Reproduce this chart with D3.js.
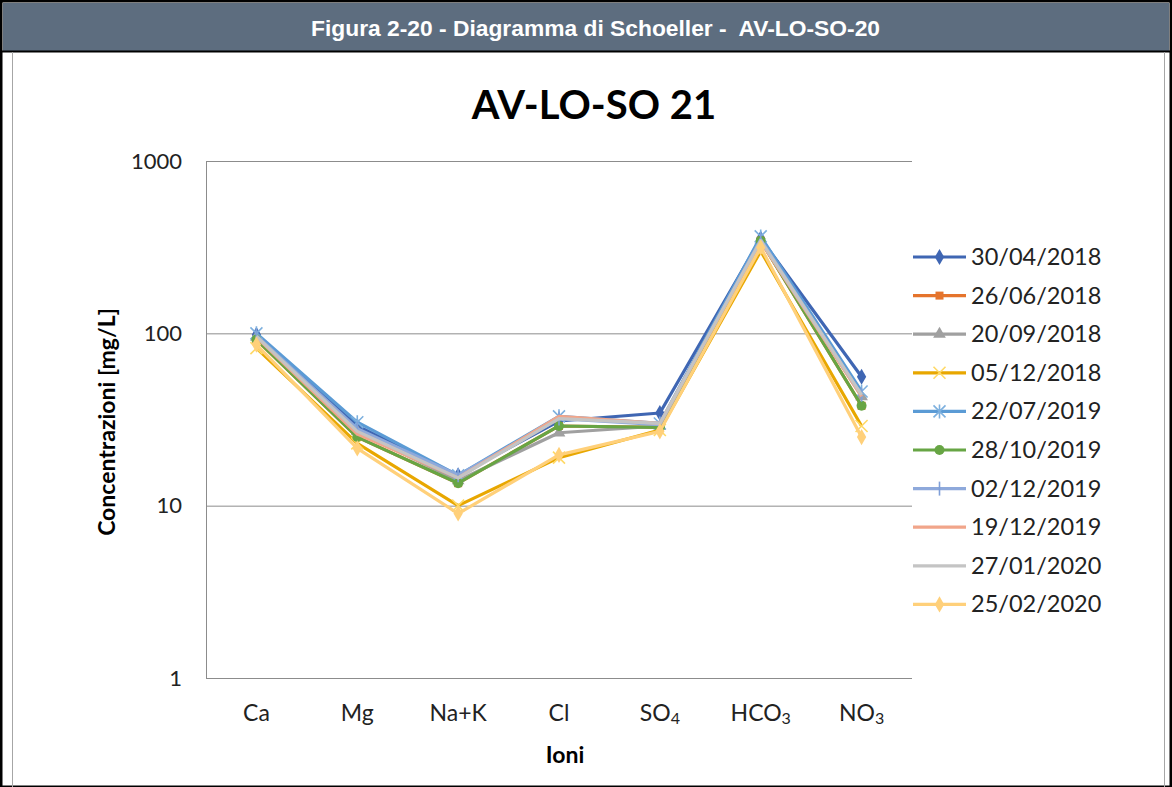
<!DOCTYPE html>
<html><head><meta charset="utf-8">
<script src="https://cdn.jsdelivr.net/npm/d3@7"></script>
<style>body{margin:0;background:#fff}svg{display:block}</style>
</head><body>
<svg id="c" width="1172" height="787"></svg>
<script>
const categories = ["Ca","Mg","Na+K","Cl","SO4","HCO3","NO3"];
const seriesNames = ["30/04/2018","26/06/2018","20/09/2018","05/12/2018","22/07/2019","28/10/2019","02/12/2019","19/12/2019","27/01/2020","25/02/2020"];
const s1  = [98, 29, 15, 31, 34.5, 355, 56];
const s2  = [92, 25, 13.5, 29, 28.5, 345, 38];
const s3  = [95, 27, 14, 26.5, 29, 345, 43];
const s4  = [82, 23, 10, 19, 27.5, 300, 29];
const s5  = [100, 30.5, 15, 33, 30, 365, 46];
const s6  = [92, 25, 13.5, 29, 28.5, 345, 38];
const s7  = [97, 28, 15, 32, 29.5, 350, 44];
const s8  = [95, 26, 14.5, 33, 30, 340, 43];
const s9  = [96, 27, 14.5, 32, 30, 345, 44];
const s10 = [86, 21.5, 9, 19.7, 27, 315, 25];
const seriesValues = [s1,s2,s3,s4,s5,s6,s7,s8,s9,s10];
const yTicks = [1, 10, 100, 1000];

const colors = ["#3F66B3","#E5742C","#A0A0A0","#E8A700","#5B9BD5","#67A544","#8EA9DB","#F1A58A","#C4C4C4","#FFD07A"];
const markerColors = ["#3F66B3","#E5742C","#A0A0A0","#FFD966","#7DB0DE","#67A544","#7F9FD8","none","none","#FFD07A"];
const markers = ["diamond","square","triangle","x","star","circle","plus","none","none","diamond"];

const FONT = "Lato,'Open Sans',sans-serif";
const svg = d3.select("#c");
// frame & header
svg.append("rect").attr("x",1).attr("y",1).attr("width",1170).attr("height",786).attr("fill","#fff").attr("stroke","#000").attr("stroke-width",3);
svg.append("rect").attr("x",3).attr("y",3).attr("width",1166).attr("height",48).attr("fill","#5D6D7F");
svg.append("line").attr("x1",0).attr("x2",1172).attr("y1",51.5).attr("y2",51.5).attr("stroke","#000").attr("stroke-width",2);
svg.append("line").attr("x1",12.5).attr("x2",12.5).attr("y1",52).attr("y2",787).attr("stroke","#A6A6A6").attr("stroke-width",1);
svg.append("line").attr("x1",1164.5).attr("x2",1164.5).attr("y1",52).attr("y2",787).attr("stroke","#A6A6A6").attr("stroke-width",1);
svg.append("text").attr("x",311).attr("y",36).attr("textLength",569).attr("lengthAdjust","spacingAndGlyphs")
  .style("white-space","pre")
  .attr("font-family","'Liberation Sans',Arial,sans-serif").attr("font-weight","bold")
  .attr("font-size",22).attr("fill","#fff").text("Figura 2-20 - Diagramma di Schoeller -  AV-LO-SO-20");

// chart
const x = d3.scaleBand().domain(categories).range([206, 912]);
const cx = c => x(c) + x.bandwidth()/2;
const y = d3.scaleLog().domain([1,1000]).range([678,161]);

svg.append("text").attr("x",594).attr("y",119).attr("text-anchor","middle")
  .attr("font-family",FONT).attr("font-weight","bold").attr("font-size",40).attr("fill","#000").text("AV-LO-SO 21");

// gridlines
const gy = svg.append("g").attr("transform","translate(206,0)")
  .call(d3.axisLeft(y).tickValues(yTicks).tickSize(-706).tickFormat(d3.format("d")).tickPadding(24));
gy.select(".domain").remove();
gy.selectAll(".tick line").attr("stroke","#8C8C8C").attr("stroke-width",1);
gy.selectAll(".tick text").attr("font-family",FONT).attr("font-size",22).attr("fill","#222");
svg.append("line").attr("x1",206.5).attr("x2",206.5).attr("y1",161).attr("y2",678).attr("stroke","#8C8C8C");

// x axis labels
const gx = svg.append("g").attr("transform","translate(0,678)")
  .call(d3.axisBottom(x).tickSize(0).tickPadding(27));
gx.select(".domain").remove();
gx.selectAll(".tick text").attr("font-family",FONT).attr("font-size",23).attr("fill","#222")
  .each(function(d){
    const t = d3.select(this); t.text(null);
    const m = d.match(/^(.*?)(\d+)$/);
    if (m) { t.append("tspan").text(m[1]); t.append("tspan").attr("font-size",16).attr("dy",3).text(m[2]); }
    else t.text(d);
  });

svg.append("text").attr("x",565).attr("y",763).attr("text-anchor","middle")
  .attr("font-family",FONT).attr("font-weight","bold").attr("font-size",23).text("Ioni");
svg.append("text").attr("transform","translate(115,422) rotate(-90)").attr("text-anchor","middle")
  .attr("font-family",FONT).attr("font-weight","bold").attr("font-size",23).text("Concentrazioni [mg/L]");

function drawMarker(g, type, col, px, py) {
  const sw = 1.6;
  if (type==="diamond") g.append("path").attr("d",d3.symbol(d3.symbolDiamond,75)()).attr("transform",`translate(${px},${py})`).attr("fill",col);
  else if (type==="square") g.append("rect").attr("x",px-4).attr("y",py-4).attr("width",8).attr("height",8).attr("fill",col);
  else if (type==="triangle") g.append("path").attr("d",d3.symbol(d3.symbolTriangle,70)()).attr("transform",`translate(${px},${py})`).attr("fill",col);
  else if (type==="circle") g.append("circle").attr("cx",px).attr("cy",py).attr("r",5).attr("fill",col);
  else if (type==="x") g.append("path").attr("d",`M${px-6},${py-6}L${px+6},${py+6}M${px-6},${py+6}L${px+6},${py-6}`).attr("stroke",col).attr("stroke-width",sw);
  else if (type==="star") g.append("path").attr("d",`M${px-6},${py-6}L${px+6},${py+6}M${px-6},${py+6}L${px+6},${py-6}M${px},${py-7}L${px},${py+7}`).attr("stroke",col).attr("stroke-width",sw);
  else if (type==="plus") g.append("path").attr("d",`M${px},${py-7}L${px},${py+7}`).attr("stroke",col).attr("stroke-width",sw);
}

const line = d3.line().x((d,i)=>cx(categories[i])).y(d=>y(d));
seriesValues.forEach((vals, si) => {
  const g = svg.append("g");
  g.append("path").datum(vals).attr("d",line).attr("fill","none").attr("stroke",colors[si]).attr("stroke-width",3.2).attr("stroke-linejoin","round");
  if (markers[si]!=="none") vals.forEach((v,i)=>drawMarker(g, markers[si], markerColors[si], cx(categories[i]), y(v)));
});

// legend
const lg = svg.append("g");
seriesNames.forEach((n, si) => {
  const ly = 257 + si*38.6;
  lg.append("line").attr("x1",913).attr("x2",966).attr("y1",ly).attr("y2",ly).attr("stroke",colors[si]).attr("stroke-width",3.2);
  if (markers[si]!=="none") drawMarker(lg, markers[si], markerColors[si], 939.5, ly);
  lg.append("text").attr("x",971).attr("y",ly+8).attr("font-family",FONT).attr("font-size",23.5).attr("fill","#222").text(n);
});
</script>
</body></html>
